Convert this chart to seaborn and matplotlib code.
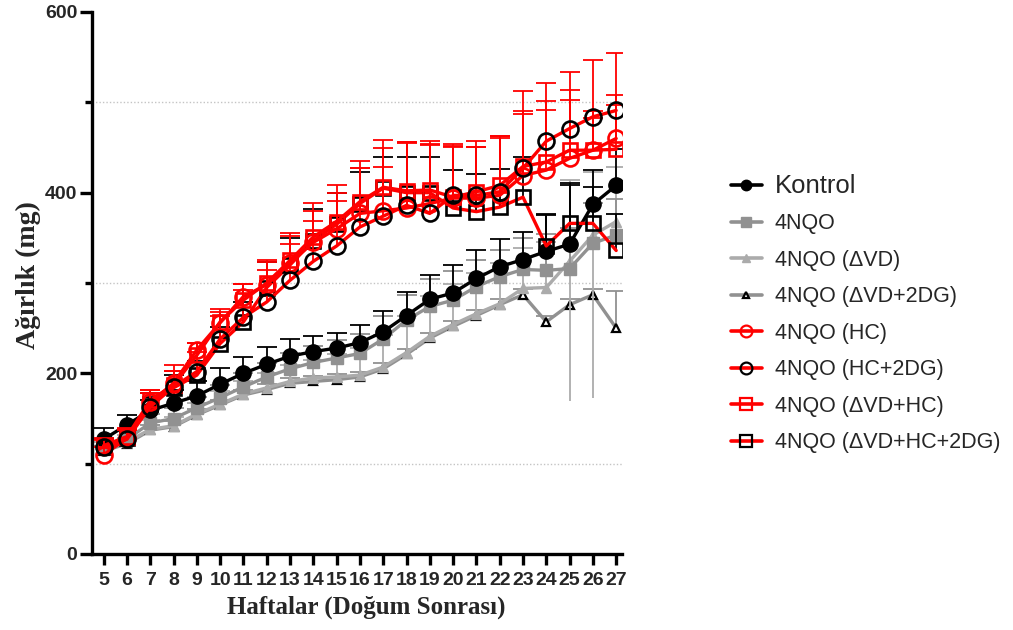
import numpy as np
import pandas as pd
import matplotlib
matplotlib.use("Agg")
import matplotlib.pyplot as plt
import seaborn as sns
from matplotlib.lines import Line2D
from matplotlib.ticker import MultipleLocator

# ---------------- data ----------------
weeks = list(range(5, 28))
week_labels = [str(w) for w in weeks]

kontrol = [127, 143, 159, 167, 175, 188, 200, 210, 219, 224, 228, 234, 246, 264, 282, 289, 305, 318, 326, 335, 343, 387, 408]
nqo = [118, 127, 145, 150, 162, 173, 185, 196, 205, 212, 217, 222, 238, 259, 274, 281, 296, 307, 315, 314, 316, 344, 353]
nqo_vd = [116, 124, 138, 142, 155, 166, 177, 184, 191, 195, 196, 198, 207, 223, 241, 254, 266, 277, 294, 295, 324, 353, 368]
nqo_vd_2dg = [114, 122, 137, 141, 154, 165, 176, 182, 189, 191, 193, 196, 205, 221, 239, 252, 264, 276, 287, 257, 276, 287, 250]
nqo_hc = [110, 128, 168, 189, 226, 256, 285, 298, 322, 345, 360, 377, 380, 383, 388, 394, 394, 397, 419, 425, 438, 447, 460]
nqo_hc_2dg = [118, 127, 163, 185, 202, 238, 262, 279, 303, 324, 341, 362, 374, 386, 377, 397, 397, 401, 427, 457, 471, 484, 491]
nqo_vd_hc = [120, 130, 170, 187, 220, 257, 281, 300, 325, 351, 368, 390, 406, 402, 403, 395, 401, 408, 429, 434, 447, 447, 448]
nqo_vd_hc_2dg = [119, 128, 166, 184, 198, 233, 257, 295, 320, 347, 365, 388, 405, 400, 400, 383, 379, 384, 395, 341, 366, 366, 336]

# upper error (SD) values
sd_kontrol = [12, 11, 12, 14, 16, 18, 18, 19, 19, 17, 17, 20, 23, 26, 27, 31, 31, 31, 31, 40, 65, 38, 40]
sd_nqo = [10, 10, 10, 12, 12, 14, 15, 15, 17, 18, 20, 22, 25, 28, 30, 32, 30, 30, 35, 40, 45, 45, 40]
sd_nqo_vd = [8, 8, 10, 10, 12, 14, 15, 16, 18, 20, 25, 30, 35, 40, 45, 45, 45, 45, 45, 50, 90, 70, 60]
sd_nqo_vd_low = [0, 0, 0, 0, 0, 0, 0, 0, 0, 0, 0, 0, 0, 0, 0, 0, 0, 0, 0, 0, 155, 180, 0]
sd_nqo_vd_2dg = [6, 6, 6, 6, 6, 6, 6, 6, 6, 6, 6, 6, 6, 6, 6, 6, 6, 6, 6, 6, 6, 6, 41]
sd_nqo_hc = [8, 10, 14, 20, 8, 12, 14, 25, 30, 35, 40, 50, 48, 72, 66, 58, 57, 66, 71, 77, 76, 43, 48]
sd_nqo_hc_2dg = [8, 10, 15, 18, 22, 26, 30, 35, 40, 45, 50, 65, 75, 70, 80, 57, 60, 60, 85, 64, 63, 63, 64]
sd_nqo_vd_hc = [8, 10, 12, 16, 14, 14, 18, 25, 30, 38, 40, 45, 52, 54, 50, 56, 50, 55, 58, 57, 56, 36, 49]
sd_nqo_vd_hc_2dg = [8, 10, 12, 14, 16, 18, 22, 28, 30, 35, 35, 35, 35, 40, 40, 42, 42, 42, 45, 35, 45, 40, 40]

labels = ["Kontrol", "4NQO", "4NQO (ΔVD)", "4NQO (ΔVD+2DG)", "4NQO (HC)",
          "4NQO (HC+2DG)", "4NQO (ΔVD+HC)", "4NQO (ΔVD+HC+2DG)"]

RED = "#ff0000"
GRAY = "#919191"
LGRAY = "#ababab"

# styles: label -> (values, sd_up, sd_low, line color, marker, ms, mfc, mec, mew, err color, legend ms)
series = [
    ("4NQO (ΔVD+2DG)", nqo_vd_2dg, sd_nqo_vd_2dg, None, GRAY, "^", 6, "white", "black", 1.6, GRAY, 5),
    ("4NQO (ΔVD)", nqo_vd, sd_nqo_vd, sd_nqo_vd_low, LGRAY, "^", 7, LGRAY, LGRAY, 1.0, LGRAY, 6),
    ("4NQO", nqo, sd_nqo, None, GRAY, "s", 9, GRAY, GRAY, 1.0, GRAY, 7.5),
    ("Kontrol", kontrol, sd_kontrol, None, "black", "o", 11, "black", "black", 1.0, "black", 7.5),
    ("4NQO (ΔVD+HC+2DG)", nqo_vd_hc_2dg, sd_nqo_vd_hc_2dg, None, RED, "s", 10, "none", "black", 1.9, "black", 8),
    ("4NQO (ΔVD+HC)", nqo_vd_hc, sd_nqo_vd_hc, None, RED, "s", 10, "none", RED, 1.9, RED, 8),
    ("4NQO (HC)", nqo_hc, sd_nqo_hc, None, RED, "o", 11.5, "none", RED, 1.9, RED, 8.5),
    ("4NQO (HC+2DG)", nqo_hc_2dg, sd_nqo_hc_2dg, None, RED, "o", 11.5, "none", "black", 1.9, RED, 8.5),
]

sns.set_theme(style="ticks")
plt.rcParams['font.family'] = ['Liberation Sans', 'DejaVu Sans']

fig = plt.figure(figsize=(10.13, 6.3), dpi=100)
ax = fig.add_axes([92 / 1013, 1 - 554 / 630, (622 - 92) / 1013, (554 - 12) / 630])

styles = {}
for i, (name, vals, up, low, lc, mk, ms, mfc, mec, mew, ec, lms) in enumerate(series):
    vals = np.array(vals, dtype=float)
    up = np.array(up, dtype=float)
    z = 2 + i
    eb = ax.errorbar(weeks, vals, yerr=[np.zeros_like(up), up], fmt="none", ecolor=ec,
                     elinewidth=1.3, capsize=7, capthick=1.3, zorder=z - 0.5)
    for cl in eb.lines[1]:
        if np.allclose(cl.get_ydata(), vals):
            cl.set_visible(False)
    if low is not None:
        low = np.array(low, dtype=float)
        idx = low > 0
        ax.errorbar(np.array(weeks)[idx], vals[idx], yerr=[low[idx], np.zeros(idx.sum())],
                    fmt="none", ecolor=ec, elinewidth=1.3, capsize=0, zorder=z - 0.5)
    df = pd.DataFrame({"Hafta": weeks, "Ağırlık": vals})
    sns.lineplot(data=df, x="Hafta", y="Ağırlık", ax=ax, color=lc, linewidth=2.4,
                 marker=mk, markersize=ms, markerfacecolor=mfc, markeredgecolor=mec,
                 markeredgewidth=mew, legend=False, zorder=z)
    styles[name] = dict(color=lc, marker=mk, markersize=lms, markerfacecolor=mfc,
                        markeredgecolor=mec, markeredgewidth=min(mew, 1.6), linewidth=2.6)

# axes styling
ax.set_xlim(4.5, 27.25)
ax.set_ylim(0, 600)
ax.set_xticks(weeks)
ax.set_xticklabels(week_labels, fontsize=14, fontweight="bold")
ax.yaxis.set_major_locator(MultipleLocator(200))
ax.yaxis.set_minor_locator(MultipleLocator(100))
ax.set_yticks([0, 200, 400, 600])
ax.set_yticklabels(["0", "200", "400", "600"], fontsize=14, fontweight="bold")
ax.grid(False)
ax.yaxis.grid(True, which="minor", linestyle=(0, (1, 1.5)), color="#c4c4c4", linewidth=1.0)
for s in ["top", "right"]:
    ax.spines[s].set_visible(False)
for s in ["left", "bottom"]:
    ax.spines[s].set_linewidth(2.4)
    ax.spines[s].set_color("black")
ax.tick_params(axis="y", which="major", length=8.5, width=2.4, color="black", pad=2)
ax.tick_params(axis="y", which="minor", length=5, width=2.4, color="black")
ax.tick_params(axis="x", which="major", length=8, width=2.4, color="black", pad=5)

ax.set_xlabel("Haftalar (Doğum Sonrası)", fontsize=18, fontweight="bold",
              family=["Liberation Serif", "DejaVu Serif"])
ax.xaxis.set_label_coords((366 - 92) / (622 - 92), -(614 - 554) / (554 - 12))
ax.xaxis.label.set_va("baseline")
ax.set_ylabel("Ağırlık (mg)", fontsize=20, fontweight="bold",
              family=["Liberation Serif", "DejaVu Serif"])
ax.yaxis.set_label_coords(-(92 - 28) / (622 - 92), (554 - 275) / (554 - 12))
ax.yaxis.label.set_va("center")

# legend
handles = [Line2D([0], [0], **styles[n]) for n in labels]
leg = fig.legend(handles, labels, loc="upper left", bbox_to_anchor=(722 / 1013, 1 - 165 / 630),
                 frameon=False, fontsize=15.5, handlelength=1.45, handletextpad=0.6,
                 labelspacing=0.72, borderaxespad=0)
leg.get_texts()[0].set_fontsize(18.5)

fig.savefig("out.png", dpi=100)
